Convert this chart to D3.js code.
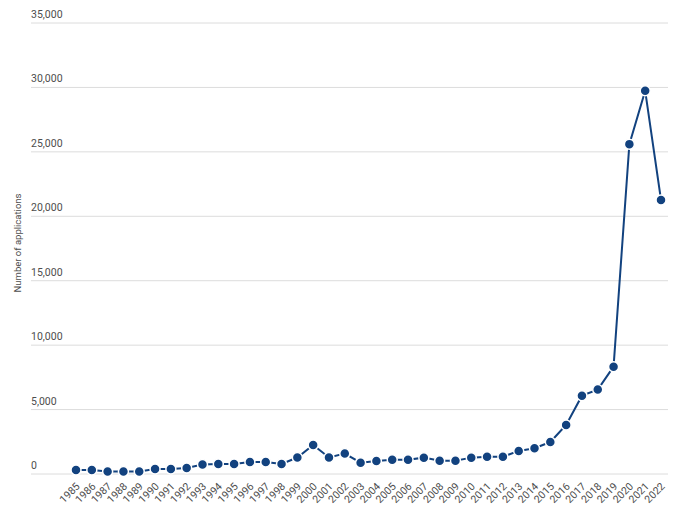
<!DOCTYPE html>
<html><head><meta charset="utf-8">
<script src="https://cdn.jsdelivr.net/npm/d3@7"></script>
<style>body{margin:0;background:#fff;}text{font-family:Roboto,"Liberation Sans",Arial,sans-serif;}</style>
</head><body><svg id="c" width="688" height="523"></svg>
<script>
const years = [1985,1986,1987,1988,1989,1990,1991,1992,1993,1994,1995,1996,1997,1998,1999,2000,2001,2002,2003,2004,2005,2006,2007,2008,2009,2010,2011,2012,2013,2014,2015,2016,2017,2018,2019,2020,2021,2022];
const applications = [310,310,200,200,200,390,390,470,740,780,780,930,930,780,1280,2250,1280,1590,880,1010,1110,1110,1270,1030,1030,1270,1340,1340,1790,2000,2480,3800,6080,6550,8330,25600,29740,21270];
const yTicks = [0,5000,10000,15000,20000,25000,30000,35000];
const yTitle = "Number of applications";

const svg = d3.select("#c");
const x = d3.scalePoint().domain(years).range([76,661]);
const y = d3.scaleLinear().domain([0,35000]).range([474,23]);
const fmt = d3.format(",");

const g = svg.append("g");
yTicks.forEach(t=>{
  g.append("line").attr("x1",31).attr("x2",668).attr("y1",y(t)).attr("y2",y(t))
    .attr("stroke","#dcdcdc").attr("stroke-width",1);
  g.append("text").attr("x",31).attr("y",y(t)-5).text(fmt(t))
    .attr("font-size",10.5).attr("fill","#4d4d4d");
});

svg.append("text").attr("transform","translate(21,243) rotate(-90)")
  .attr("text-anchor","middle").attr("font-size",9.5).attr("fill","#4d4d4d").text(yTitle);

const xa = svg.append("g").attr("transform","translate(0,474)")
  .call(d3.axisBottom(x).tickSize(0).tickPadding(0));
xa.select(".domain").remove();
xa.selectAll("text").attr("font-size",10.5).attr("fill","#4d4d4d")
  .attr("text-anchor","end").attr("dy",null).attr("y",0)
  .attr("transform","translate(4,13) rotate(-45)")
  .style("font-family","Roboto, 'Liberation Sans', Arial, sans-serif");

const data = years.map((yr,i)=>({yr,v:applications[i]}));
svg.append("path").datum(data)
  .attr("fill","none").attr("stroke","#12427f").attr("stroke-width",2)
  .attr("d", d3.line().x(d=>x(d.yr)).y(d=>y(d.v)));
svg.selectAll("circle.pt").data(data).enter().append("circle")
  .attr("cx",d=>x(d.yr)).attr("cy",d=>y(d.v)).attr("r",5)
  .attr("fill","#12427f").attr("stroke","#fff").attr("stroke-width",1.5);
</script></body></html>
